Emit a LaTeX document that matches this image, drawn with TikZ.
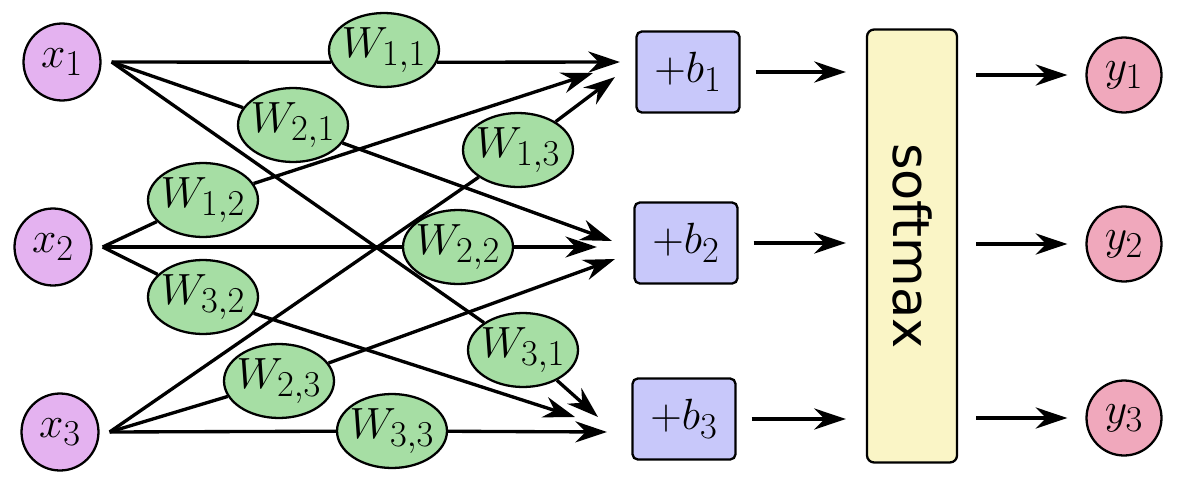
\documentclass[tikz,border=0pt]{standalone}
\usepackage{fontspec}
\usepackage{graphicx}
\newfontfamily\smxfont{DejaVu Sans}
\usetikzlibrary{positioning, shapes.geometric, arrows.meta}
\definecolor{inX}{RGB}{228,178,240}
\definecolor{wG}{RGB}{166,222,164}
\definecolor{bB}{RGB}{200,200,250}
\definecolor{smY}{RGB}{250,245,198}
\definecolor{outY}{RGB}{240,168,188}
\newcommand{\wlab}[2]{\makebox[1.45cm]{$W_{#1,#2}$}}
\tikzset{
  unit/.style ={draw=black, line width=1.3pt, font=\Huge, inner sep=0pt},
  Lin/.style  ={unit, circle, fill=inX, minimum size=1.54cm},
  Lw/.style   ={unit, ellipse, fill=wG, minimum width=2.2cm,
                minimum height=1.48cm},
  Lbias/.style={unit, rounded corners=3pt, fill=bB, minimum width=2.06cm,
                minimum height=1.62cm},
  Lsmx/.style ={unit, rounded corners=4pt, fill=smY, minimum width=1.8cm,
                minimum height=8.66cm,
                font=\smxfont\fontsize{29}{34}\selectfont},
  Lout/.style ={unit, circle, fill=outY, minimum size=1.5cm},
  feed/.style ={-, line width=1.9pt},
  push/.style ={-{Stealth[length=18pt, width=12pt]}, line width=1.9pt},
}

\begin{document}
\begin{tikzpicture}[x=0.02cm, y=-0.02cm]
\useasboundingbox (0,0) rectangle (1190,490);

% inputs, with the point where their lines fan out
\foreach \i/\x/\y in {1/62/62, 2/53/247, 3/60/432} {
  \node[Lin] (x\i) at (\x,\y) {$x_\i$};
  \coordinate[right=0.2cm of x\i.east] (s\i);
}

% weights (row = output, column = input)
\foreach \j/\i/\x/\y in {1/1/384/50, 2/1/293/125, 3/1/523/350,
                         1/2/203/200, 2/2/458/247, 3/2/203/297,
                         1/3/518/150, 2/3/279/381, 3/3/392/431}
  \node[Lw] (W\j\i) at (\x,\y) {\wlab{\j}{\i}};

% biases
\foreach \j/\x/\y in {1/688/72, 2/686/243, 3/684/419}
  \node[Lbias] (b\j) at (\x,\y) {$+b_\j$};

\node[Lsmx] (smx) at (912,246) {\rotatebox{-90}{softmax}};

% outputs
\foreach \j/\y in {1/75, 2/244, 3/418}
  \node[Lout] (y\j) at (1124,\y) {$y_\j$};

% arrow tips in front of the bias boxes
\foreach \j/\i/\x/\y in {1/1/620/62, 1/2/593/73, 1/3/615/77,
                         2/1/612/241, 2/2/597/247, 2/3/615/259,
                         3/1/598/417, 3/2/575/417, 3/3/607/432}
  \coordinate (t\j\i) at (\x,\y);

% input -> weight -> bias
\draw[feed] (s1) -- (W11.193);
\draw[push] (W11.347) -- (t11);
\foreach \j/\i in {2/1, 3/1, 1/2, 2/2, 3/2, 1/3, 2/3, 3/3} {
  \draw[feed] (s\i) -- (W\j\i);
  \draw[push] (W\j\i) -- (t\j\i);
}

% bias -> softmax -> output
\foreach \j in {1,2,3} {
  \draw[push, shorten <=0.3cm, shorten >=0.4cm]
    (b\j.east) -- (b\j.east -| smx.west);
  \draw[push, shorten <=0.36cm, shorten >=0.36cm]
    (smx.east |- y\j) -- (y\j);
}

\end{tikzpicture}
\end{document}
